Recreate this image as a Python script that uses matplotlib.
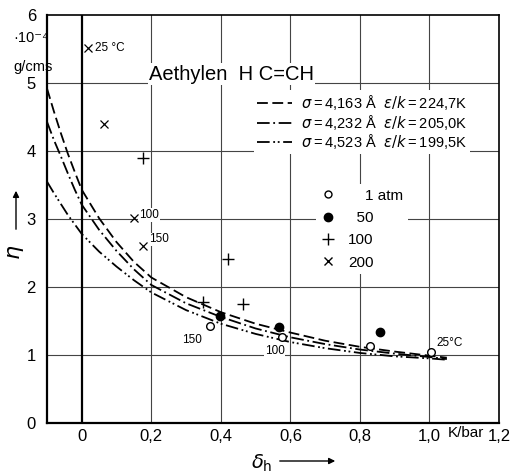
import matplotlib
matplotlib.use("Agg")
import matplotlib.pyplot as plt
from matplotlib.lines import Line2D
from matplotlib.patches import FancyArrowPatch

plt.rcParams["font.family"] = ["Liberation Sans", "DejaVu Sans"]
plt.rcParams["mathtext.fontset"] = "dejavusans"

# theoretical curves (eta in 1e-4 g/cms over delta_h in K/bar)
delta = [-0.1, -0.08, -0.06, -0.04, -0.02, 0.0, 0.05, 0.1, 0.15, 0.2,
         0.3, 0.4, 0.5, 0.6, 0.7, 0.8, 0.9, 1.0, 1.05]
eta_4163 = [4.92, 4.58, 4.26, 3.96, 3.69, 3.43, 3.01, 2.66, 2.37, 2.14,
            1.85, 1.63, 1.46, 1.33, 1.21, 1.12, 1.05, 0.99, 0.96]
eta_4232 = [4.43, 4.16, 3.92, 3.67, 3.43, 3.21, 2.84, 2.53, 2.26, 2.03,
            1.76, 1.56, 1.39, 1.26, 1.16, 1.08, 1.02, 0.97, 0.94]
eta_4523 = [3.55, 3.38, 3.22, 3.06, 2.92, 2.78, 2.52, 2.30, 2.10, 1.92,
            1.66, 1.46, 1.31, 1.19, 1.10, 1.03, 0.98, 0.95, 0.93]
t = "\u2009"
curve_labels = [rf"$\sigma${t}={t}4,163 Å  $\varepsilon/k${t}={t}224,7K",
                rf"$\sigma${t}={t}4,232 Å  $\varepsilon/k${t}={t}205,0K",
                rf"$\sigma${t}={t}4,523 Å  $\varepsilon/k${t}={t}199,5K"]

# measurements
x_1atm = [0.37, 0.575, 0.83, 1.005]
y_1atm = [1.42, 1.26, 1.13, 1.05]
x_50 = [0.398, 0.566, 0.859]
y_50 = [1.57, 1.41, 1.34]
x_100 = [0.177, 0.348, 0.42, 0.465]
y_100 = [3.89, 1.775, 2.41, 1.745]
x_200 = [0.019, 0.064, 0.149, 0.177]
y_200 = [5.51, 4.40, 3.02, 2.60]

xticks = [0, 0.2, 0.4, 0.6, 0.8, 1.0, 1.2]
xticklabels = ["0", "0,2", "0,4", "0,6", "0,8", "1,0", "1,2"]
yticks = [0, 1, 2, 3, 4, 5, 6]

fig = plt.figure(figsize=(5.17, 4.75), dpi=100)
ax = fig.add_axes([0.0909, 0.1095, 0.8743, 0.8589])
ax.set_xlim(-0.1, 1.2)
ax.set_ylim(0, 6)

# grid
for gx in xticks[1:-1]:
    ax.axvline(gx, color="#444444", lw=0.8, zorder=0)
for gy in yticks[1:-1]:
    ax.axhline(gy, color="#444444", lw=0.8, zorder=0)
ax.axvline(0, color="black", lw=1.6, zorder=0)

for s in ax.spines.values():
    s.set_linewidth(1.2)
ax.spines["left"].set_linewidth(1.6)
ax.spines["bottom"].set_linewidth(1.6)

ax.set_xticks(xticks)
ax.set_xticklabels(xticklabels)
ax.set_yticks(yticks)
ax.tick_params(length=0, labelsize=12)
ax.tick_params(axis="x", pad=4)
ax.tick_params(axis="y", pad=8)

styles = [(0, (6, 2.5)), (0, (7, 2, 1, 2)), (0, (7, 2, 1, 1.5, 1, 2))]
curves = []
for eta, ls in zip([eta_4163, eta_4232, eta_4523], styles):
    ln, = ax.plot(delta, eta, color="black", lw=1.3, linestyle=ls, zorder=2)
    curves.append(ln)

ax.plot(x_1atm, y_1atm, "o", ms=5.5, mfc="white", mec="black", mew=1.0, zorder=4)
ax.plot(x_50, y_50, "o", ms=6, color="black", zorder=4)
ax.plot(x_100, y_100, "+", ms=8, color="black", mew=1.0, zorder=4)
ax.plot(x_200, y_200, "x", ms=5.5, color="black", mew=0.9, zorder=4)

# temperature annotations
small = dict(fontsize=8.5, bbox=dict(fc="white", ec="none", pad=0.5), zorder=3)
ax.annotate("25 °C", (x_200[0], y_200[0]), xytext=(5, 0),
            textcoords="offset points", va="center", **small)
ax.annotate("100", (x_200[2], y_200[2]), xytext=(4, 2),
            textcoords="offset points", va="center", **small)
ax.annotate("150", (x_200[3], y_200[3]), xytext=(4, 5),
            textcoords="offset points", va="center", **small)
ax.annotate("150", (x_1atm[0], y_1atm[0]), xytext=(-6, -10),
            textcoords="offset points", ha="right", va="center", **small)
ax.annotate("100", (x_1atm[1], y_1atm[1]), xytext=(2, -10),
            textcoords="offset points", ha="right", va="center", **small)
ax.annotate("25°C", (x_1atm[3], y_1atm[3]), xytext=(4, 6),
            textcoords="offset points", va="center", **small)

fig.text(149 / 517, 1 - 74 / 475, "Aethylen  H C=CH", fontsize=14.5,
         va="center", ha="left", bbox=dict(fc="white", ec="none", pad=1))

leg1 = ax.legend(curves, curve_labels, loc="upper left",
                 bbox_to_anchor=(254 / 517, 1 - 90 / 475),
                 bbox_transform=fig.transFigure, frameon=True, fancybox=False,
                 edgecolor="none", framealpha=1, fontsize=10.5,
                 handlelength=2.4, handletextpad=0.6, labelspacing=0.05,
                 borderpad=0.2, borderaxespad=0)
ax.add_artist(leg1)

mk = [Line2D([], [], ls="none", marker="o", ms=5, mfc="white", mec="black"),
      Line2D([], [], ls="none", marker="o", ms=6, color="black"),
      Line2D([], [], ls="none", marker="+", ms=8, color="black"),
      Line2D([], [], ls="none", marker="x", ms=5.5, color="black")]
mk_labels = ["\u2007\u20071 atm", "\u200750", "100", "200"]
ax.legend(mk, mk_labels, loc="upper left",
          bbox_to_anchor=(316 / 517, 1 - 184 / 475),
          bbox_transform=fig.transFigure, frameon=True, fancybox=False,
          edgecolor="none", framealpha=1, fontsize=11,
          handlelength=1.0, handletextpad=0.8, labelspacing=0.55,
          borderpad=0.3, borderaxespad=0)

# unit and axis names
fig.text(31 / 517, 1 - 38 / 475, "·10⁻⁴", fontsize=10.5, ha="center", va="center")
fig.text(33 / 517, 1 - 67 / 475, "g/cms", fontsize=10.5, ha="center", va="center")
fig.text(466 / 517, 1 - 433 / 475, "K/bar", fontsize=11, ha="center", va="center")

fig.text(16 / 517, 1 - 252 / 475, r"$\eta$", fontsize=16, rotation=90,
         ha="center", va="center")
fig.add_artist(FancyArrowPatch(
    (16 / 517, 1 - 232 / 475), (16 / 517, 1 - 188 / 475),
    transform=fig.transFigure, arrowstyle="-|>", mutation_scale=9,
    color="black", lw=1.0))
fig.text(262 / 517, 1 - 463 / 475, r"$\delta_{\rm h}$", fontsize=14,
         ha="center", va="center")
fig.add_artist(FancyArrowPatch(
    (277 / 517, 1 - 461 / 475), (338 / 517, 1 - 461 / 475),
    transform=fig.transFigure, arrowstyle="-|>", mutation_scale=9,
    color="black", lw=1.0))

fig.savefig("out.png", dpi=100)
